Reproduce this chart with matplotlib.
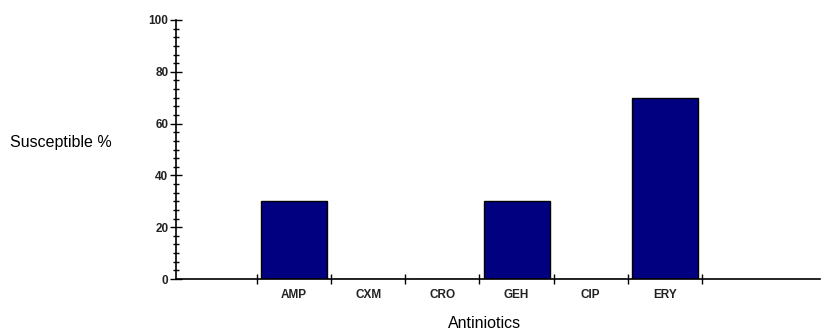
import matplotlib
matplotlib.use("Agg")
import matplotlib.pyplot as plt
from matplotlib.ticker import AutoMinorLocator

antibiotics = ["AMP", "CXM", "CRO", "GEH", "CIP", "ERY"]
susceptible = [30, 0, 0, 30, 0, 70]
y_ticks = [0, 20, 40, 60, 80, 100]

plt.rcParams["font.family"] = ["Liberation Sans", "DejaVu Sans"]

fig = plt.figure(figsize=(8.26, 3.32), dpi=100)
ax = fig.add_axes([176 / 826, 1 - 279 / 332, 644 / 826, 259 / 332])

x = list(range(len(antibiotics)))
ax.bar(x, susceptible, width=0.89, color="#000080", edgecolor="black", linewidth=1.0, zorder=2)

ax.set_xlim(-1.59, 7.09)
ax.set_ylim(0, 100)
for sp in ("top", "right"):
    ax.spines[sp].set_visible(False)
for sp in ("left", "bottom"):
    ax.spines[sp].set_linewidth(1.2)

ax.set_xticks(x)
ax.set_xticklabels(antibiotics, fontsize=8.5, fontweight="bold", color="#222222")
ax.set_xticks([i - 0.5 for i in range(len(antibiotics) + 1)], minor=True)
ax.tick_params(axis="x", which="major", length=0, pad=7)
ax.tick_params(axis="x", which="minor", direction="inout", length=7, width=1.0)

ax.set_yticks(y_ticks)
ax.set_yticklabels([str(v) for v in y_ticks], fontsize=8.5, fontweight="bold", color="#222222")
ax.yaxis.set_minor_locator(AutoMinorLocator(6))
ax.tick_params(axis="y", which="major", direction="inout", length=9, width=1.0, pad=1)
ax.tick_params(axis="y", which="minor", direction="inout", length=5, width=1.0)

fig.text(10 / 826, 1 - 142 / 332, "Susceptible %", ha="left", va="center", fontsize=11.5)
fig.text(485 / 826, 1 - 324 / 332, "Antiniotics", ha="center", va="center", fontsize=11.5)

fig.savefig("out.png", dpi=100, facecolor="white")
